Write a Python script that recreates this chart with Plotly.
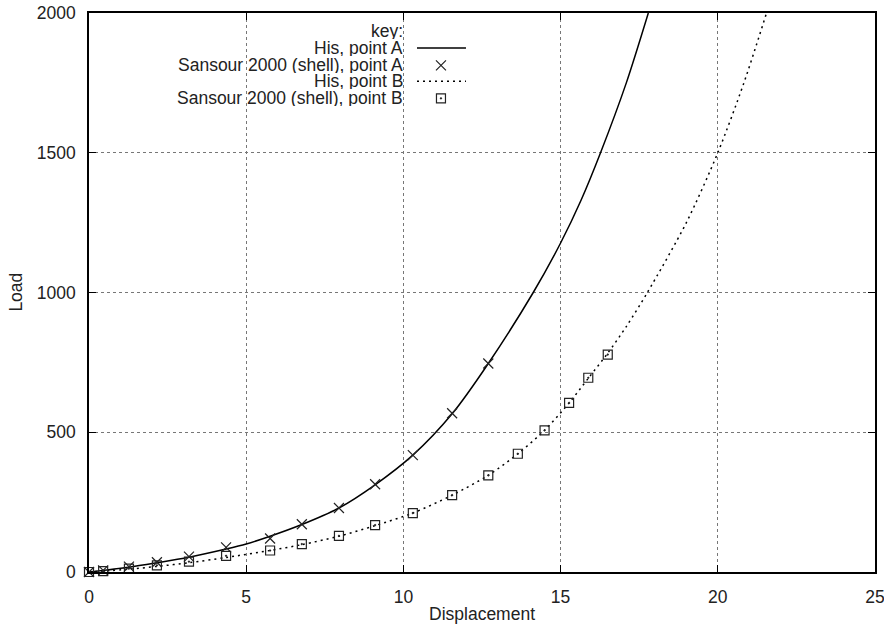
import plotly.graph_objects as go

# ---- data ----
his_a_x = [0, 1.27, 2.16, 3.18, 4.36, 5.0, 5.76, 6.77, 7.95, 9.1, 10.3, 11.55, 12.7, 14.13, 15.0, 15.65, 16.27, 17.09, 17.79]
his_a_y = [0, 17, 33, 53, 82, 100, 128, 170, 229, 312, 418, 566, 746, 1000, 1177, 1330, 1500, 1750, 2000]

san_a_x = [0, 0.45, 1.27, 2.16, 3.18, 4.36, 5.76, 6.77, 7.95, 9.1, 10.3, 11.55, 12.7]
san_a_y = [0, 6, 19, 35, 55, 88, 120, 171, 229, 314, 418, 568, 746]

his_b_x = [0, 1.27, 2.16, 3.18, 4.36, 5.76, 6.77, 7.95, 9.1, 10.3, 11.55, 12.7, 13.64, 14.49, 15.27, 15.88, 16.5, 17.1, 17.76, 19.0, 20.0, 20.83, 21.55]
his_b_y = [0, 10, 20, 33, 52, 77, 98, 128, 166, 211, 275, 346, 423, 507, 605, 693, 783, 880, 1000, 1250, 1500, 1750, 2000]

san_b_x = [0, 0.45, 1.27, 2.16, 3.18, 4.36, 5.76, 6.77, 7.95, 9.1, 10.3, 11.55, 12.7, 13.64, 14.49, 15.27, 15.88, 16.5]
san_b_y = [0, 3, 12, 24, 37, 58, 77, 100, 129, 168, 211, 275, 346, 423, 507, 605, 695, 778]

legend_title = "key:"
legend_labels = ["His, point A", "Sansour 2000 (shell), point A", "His, point B", "Sansour 2000 (shell), point B"]

x_ticks = [0, 5, 10, 15, 20, 25]
y_ticks = [0, 500, 1000, 1500, 2000]

FONT = "Liberation Sans, Arial, Helvetica, sans-serif"
FS = 17.5
TXT = "#222222"
DOTS = "2px,4px"

fig = go.Figure()

fig.add_trace(go.Scatter(x=his_a_x, y=his_a_y, mode="lines",
                         line=dict(color="black", width=1.5, shape="spline", smoothing=0.8),
                         showlegend=False))
fig.add_trace(go.Scatter(x=his_b_x, y=his_b_y, mode="lines",
                         line=dict(color="black", width=1.5, dash=DOTS, shape="spline", smoothing=0.8),
                         showlegend=False))
fig.add_trace(go.Scatter(x=san_a_x, y=san_a_y, mode="markers",
                         marker=dict(symbol="x-thin-open", size=10, color="#222",
                                     line=dict(width=1.2, color="#222")),
                         showlegend=False, cliponaxis=False))
fig.add_trace(go.Scatter(x=san_b_x, y=san_b_y, mode="markers",
                         marker=dict(symbol="square-open-dot", size=9, color="#222",
                                     line=dict(width=1.2, color="#222")),
                         showlegend=False, cliponaxis=False))

# ---- gnuplot-style key (text right, sample left) ----
row_y = [0.9678, 0.9374, 0.9064, 0.8778, 0.8474]
text_x = 0.402
line_x0, line_x1 = 0.4173, 0.4796
mark_x = 0.4478

fig.add_annotation(x=text_x, y=row_y[0], xref="paper", yref="paper", text=legend_title,
                   showarrow=False, xanchor="right", yanchor="middle", height=16,
                   font=dict(family=FONT, size=FS, color=TXT))
for i, lab in enumerate(legend_labels):
    fig.add_annotation(x=text_x, y=row_y[i + 1], xref="paper", yref="paper", text=lab,
                       showarrow=False, xanchor="right", yanchor="middle", height=16,
                       font=dict(family=FONT, size=FS, color=TXT))

fig.add_trace(go.Scatter(x=[line_x0, line_x1], y=[row_y[1], row_y[1]], xaxis="x2", yaxis="y2",
                         mode="lines", line=dict(color="black", width=1.5), showlegend=False,
                         hoverinfo="skip"))
fig.add_trace(go.Scatter(x=[line_x0, line_x1], y=[row_y[3], row_y[3]], xaxis="x2", yaxis="y2",
                         mode="lines", line=dict(color="black", width=1.5, dash=DOTS), showlegend=False,
                         hoverinfo="skip"))
fig.add_trace(go.Scatter(x=[mark_x], y=[row_y[2]], xaxis="x2", yaxis="y2", mode="markers",
                         marker=dict(symbol="x-thin-open", size=10, color="#222",
                                     line=dict(width=1.2, color="#222")),
                         showlegend=False, hoverinfo="skip"))
fig.add_trace(go.Scatter(x=[mark_x], y=[row_y[4]], xaxis="x2", yaxis="y2", mode="markers",
                         marker=dict(symbol="square-open-dot", size=9, color="#222",
                                     line=dict(width=1.2, color="#222")),
                         showlegend=False, hoverinfo="skip"))

# axis titles
fig.add_annotation(x=0.5, y=-0.076, xref="paper", yref="paper", text="Displacement",
                   showarrow=False, xanchor="center", yanchor="middle",
                   font=dict(family=FONT, size=FS, color=TXT))
fig.add_annotation(x=-0.094, y=0.5, xref="paper", yref="paper", text="Load", textangle=-90,
                   showarrow=False, xanchor="center", yanchor="middle",
                   font=dict(family=FONT, size=FS, color=TXT))

axis_common = dict(
    showline=True, linecolor="black", linewidth=1.5, mirror="ticks",
    ticks="inside", ticklen=7, tickcolor="black", tickwidth=1.2,
    showgrid=True, gridcolor="#777777", gridwidth=1, griddash="dot",
    zeroline=False, tickfont=dict(family=FONT, size=FS, color=TXT),
    ticklabelstandoff=8, automargin=False, ticklabeloverflow="allow",
)

fig.update_layout(
    width=884, height=626,
    margin=dict(l=89, r=9, t=13, b=54),
    paper_bgcolor="white", plot_bgcolor="white",
    showlegend=False,
    xaxis=dict(range=[0, 25], tickvals=x_ticks, **axis_common),
    yaxis=dict(range=[0, 2000], tickvals=y_ticks, **axis_common),
    xaxis2=dict(overlaying="x", range=[0, 1], visible=False),
    yaxis2=dict(overlaying="y", range=[0, 1], visible=False),
)

fig.write_html("out.html")
